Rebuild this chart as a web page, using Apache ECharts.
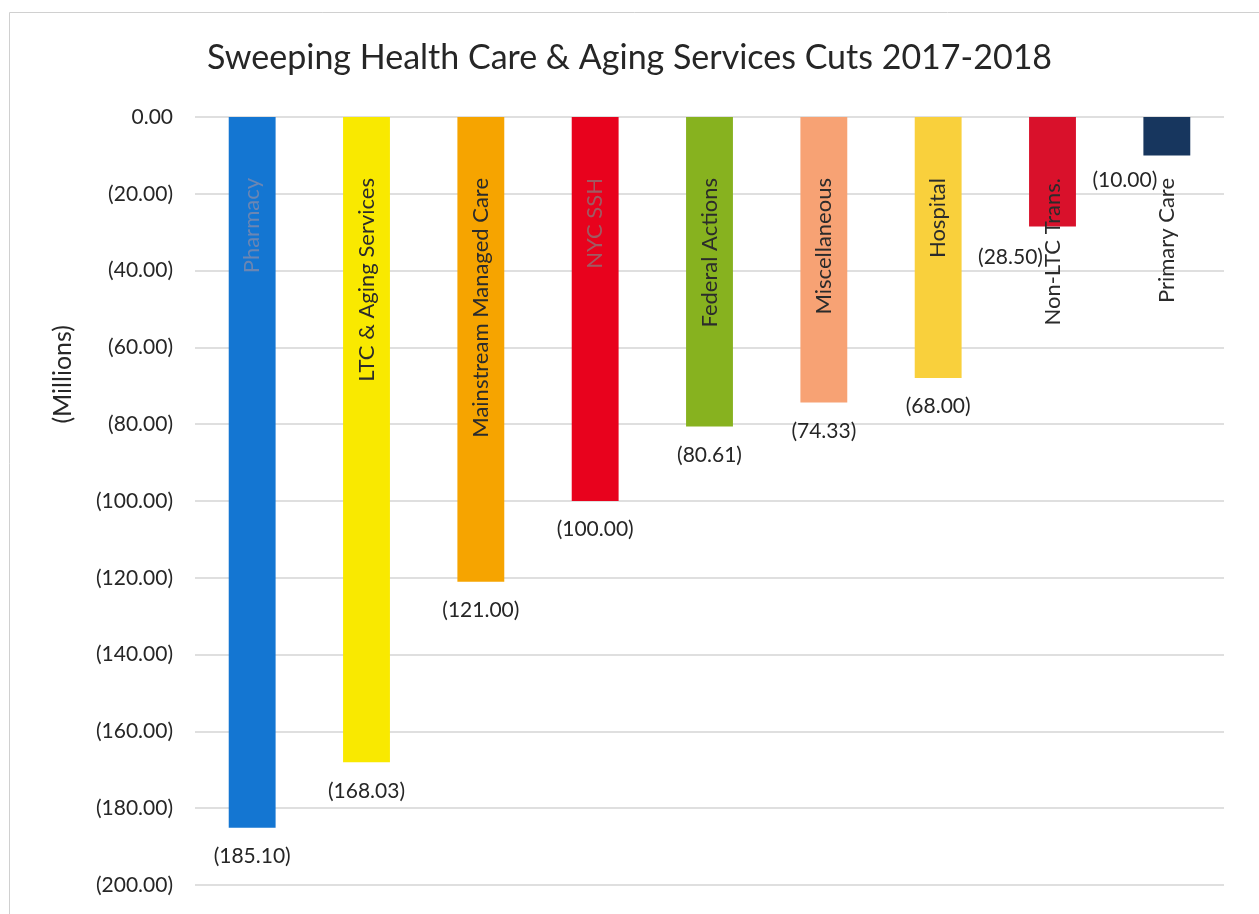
<!DOCTYPE html>
<html>
<head>
<meta charset="utf-8">
<script src="https://cdn.jsdelivr.net/npm/echarts@6/dist/echarts.min.js"></script>
<style>
html,body{margin:0;padding:0;background:#fff;}
#chart{width:1259px;height:914px;}
</style>
</head>
<body>
<div id="chart"></div>
<script>
const categories = ['Pharmacy','LTC & Aging Services','Mainstream Managed Care','NYC SSH','Federal Actions','Miscellaneous','Hospital','Non-LTC Trans.','Primary Care'];
const values = [-185.10, -168.03, -121.00, -100.00, -80.61, -74.33, -68.00, -28.50, -10.00];
const colors = ['#1476d2','#f9e900','#f6a400','#e8021d','#87b21f','#f7a274','#f9d03c','#d9112b','#17365e'];
const labelColors = ['#6b86b3','#2b2b2b','#2b2b2b','#a05a62','#2b2b2b','#2b2b2b','#2b2b2b','#2b2b2b','#2b2b2b'];
const valueLabelOffsets = [[0,0],[0,0],[0,0],[0,0],[0,0],[0,0],[0,0],[-42,2],[-42,-4]];
const yTicks = {min:-200, max:0, interval:20};

const FONT = 'Lato';
const fmt = v => (Math.abs(v) < 1e-9 ? '0.00' : '(' + Math.abs(v).toFixed(2) + ')');

const chart = echarts.init(document.getElementById('chart'));
chart.setOption({
  backgroundColor:'#ffffff',
  animation:false,
  title:{
    text:'Sweeping Health Care & Aging Services Cuts 2017-2018',
    left:'center', top:36,
    textStyle:{fontFamily:FONT, fontSize:34, fontWeight:'normal', color:'#262626'}
  },
  graphic:[
    {type:'rect', left:7, top:10, shape:{width:1300, height:1000}, style:{fill:'none', stroke:'#d0d0d0', lineWidth:1}, silent:true},
    {type:'text', left:50, top:325, rotation:Math.PI/2,
     style:{text:'(Millions)', fontFamily:FONT, fontSize:25, fill:'#262626'}}
  ],
  grid:{left:195, right:35, top:117, bottom:29, containLabel:false},
  xAxis:{
    type:'category', data:categories,
    axisLine:{show:false}, axisTick:{show:false}, axisLabel:{show:false}
  },
  yAxis:{
    type:'value', min:yTicks.min, max:yTicks.max, interval:yTicks.interval,
    axisLine:{show:false}, axisTick:{show:false},
    axisLabel:{formatter:fmt, fontFamily:FONT, fontSize:21, color:'#262626', margin:22},
    splitLine:{lineStyle:{color:'#d4d4d4', width:1.5}}
  },
  series:[
    {
      type:'bar', barWidth:'41%',
      data: values.map((v,i)=>({value:v, itemStyle:{color:colors[i]},
        label:{offset:valueLabelOffsets[i]}})),
      label:{show:true, position:'bottom', distance:18, formatter:p=>fmt(p.value),
        fontFamily:FONT, fontSize:21, color:'#262626'}
    },
    {
      type:'bar', barWidth:'41%', barGap:'-100%',
      data: values.map((v,i)=>({value:v, label:{color:labelColors[i]}})),
      itemStyle:{color:'rgba(0,0,0,0)'},
      label:{show:true, position:'insideTop', distance:61, rotate:90, align:'right', verticalAlign:'middle',
        formatter:'{b}', fontFamily:FONT, fontSize:22, color:'#2b2b2b'}
    }
  ]
});
</script>
</body>
</html>
